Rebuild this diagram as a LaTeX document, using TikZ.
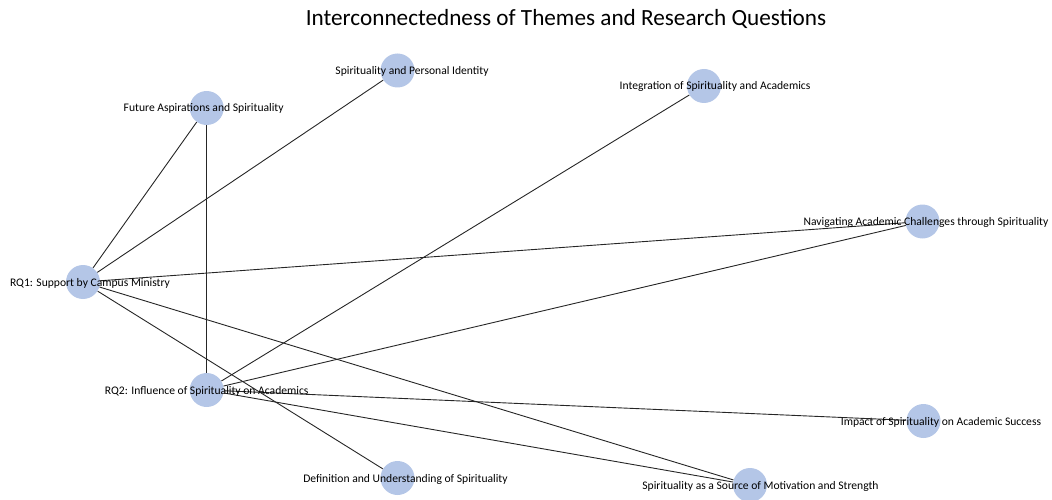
\documentclass[tikz,border=0pt]{standalone}
\usepackage{fontspec}
\setmainfont{Carlito}
\usetikzlibrary{backgrounds}
\definecolor{themefill}{HTML}{B4C6E7}
\definecolor{edgeink}{HTML}{262626}

\begin{document}
\begin{tikzpicture}[x=1pt,y=-1pt,
 theme/.style={circle,fill=themefill,minimum size=34pt,inner sep=0pt},
 tag/.style={font=\fontsize{11.6}{13}\selectfont,inner sep=0pt,anchor=base,yshift=-4pt},
 link/.style={draw=edgeink,line width=0.9pt}]
\useasboundingbox (0,0) rectangle (1052,500);
\node[font=\fontsize{23.2}{27}\selectfont,inner sep=0pt,anchor=base] (title) at (566,26) {Interconnectedness of Themes and Research Questions};
% themes and questions
\node[theme] (rq1) at (83,282) {};
\node[theme] (rq2) at (206.7,390) {};
\node[theme] (future) at (206.7,108) {};
\node[theme] (identity) at (397.5,70.5) {};
\node[theme] (integration) at (704,86) {};
\node[theme] (navigating) at (922.5,221.5) {};
\node[theme] (impact) at (923.5,421) {};
\node[theme] (motivation) at (750,485) {};
\node[theme] (definition) at (397.5,478) {};
% links
\begin{scope}[on background layer]
\draw[link] (future)--(rq1); \draw[link] (future)--(rq2); \draw[link] (identity)--(rq1);
\draw[link] (integration)--(rq2); \draw[link] (navigating)--(rq1); \draw[link] (navigating)--(rq2);
\draw[link] (rq1)--(motivation); \draw[link] (rq1)--(definition);
\draw[link] (rq2)--(impact); \draw[link] (rq2)--(motivation);
\end{scope}
% labels
\node[tag] (rq1-t) at ([xshift=7pt]rq1) {RQ1: Support by Campus Ministry};
\node[tag] (rq2-t) at (rq2) {RQ2: Influence of Spirituality on Academics};
\node[tag] (future-t) at ([xshift=-3pt]future) {Future Aspirations and Spirituality};
\node[tag] (identity-t) at ([xshift=14.5pt]identity) {Spirituality and Personal Identity};
\node[tag] (integration-t) at ([xshift=11pt]integration) {Integration of Spirituality and Academics};
\node[tag] (navigating-t) at ([xshift=3.5pt]navigating) {Navigating Academic Challenges through Spirituality};
\node[tag] (impact-t) at ([xshift=17.5pt]impact) {Impact of Spirituality on Academic Success};
\node[tag] (motivation-t) at ([xshift=10.5pt]motivation) {Spirituality as a Source of Motivation and Strength};
\node[tag] (definition-t) at ([xshift=8pt]definition) {Definition and Understanding of Spirituality};
\end{tikzpicture}
\end{document}
